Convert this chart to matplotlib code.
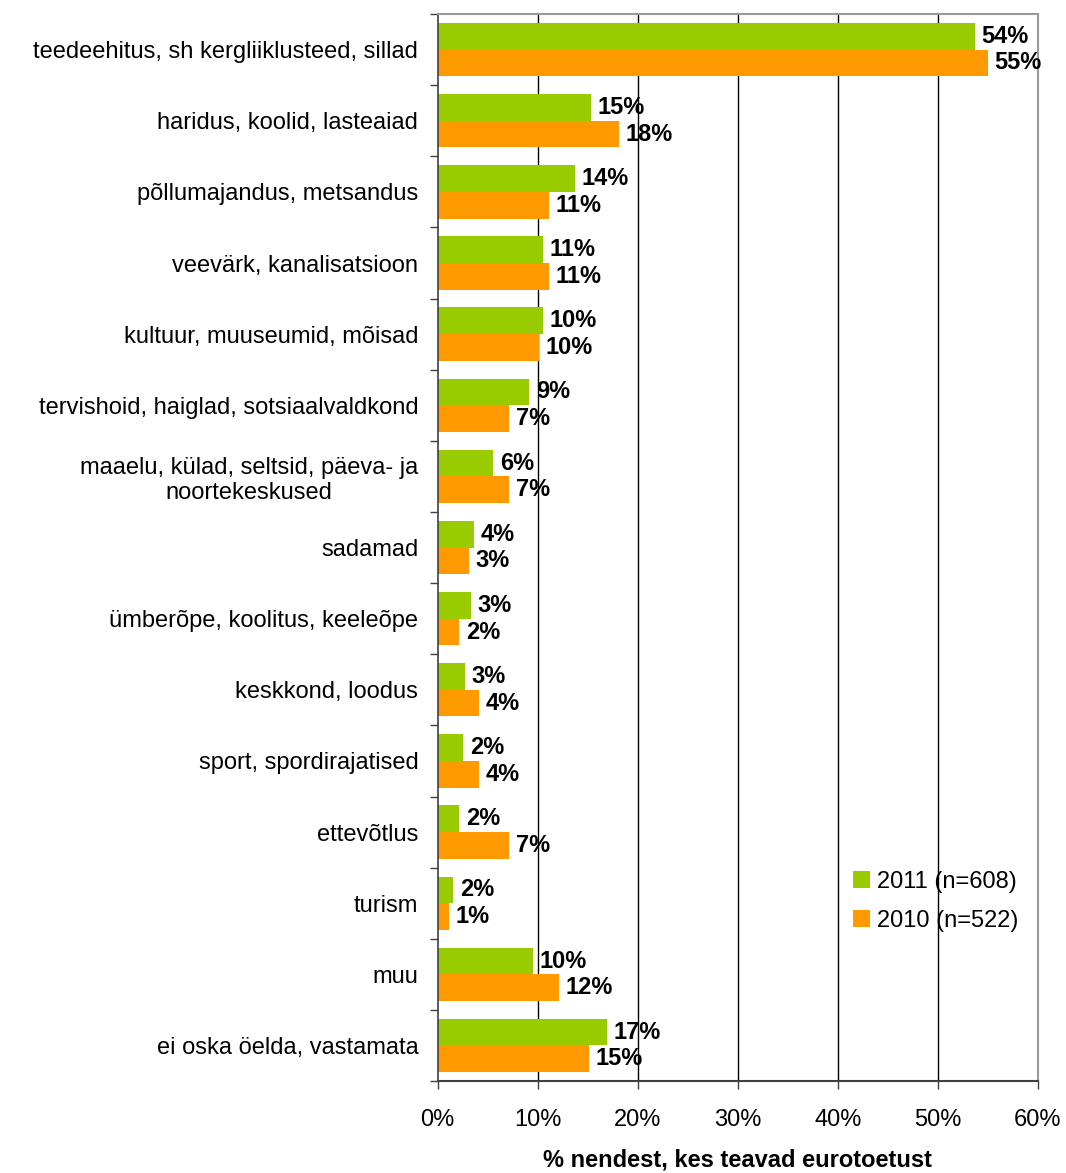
import matplotlib
matplotlib.use("Agg")
import matplotlib.pyplot as plt
import numpy as np

categories = [
    "teedeehitus, sh kergliiklusteed, sillad",
    "haridus, koolid, lasteaiad",
    "põllumajandus, metsandus",
    "veevärk, kanalisatsioon",
    "kultuur, muuseumid, mõisad",
    "tervishoid, haiglad, sotsiaalvaldkond",
    "maaelu, külad, seltsid, päeva- ja\nnoortekeskused",
    "sadamad",
    "ümberõpe, koolitus, keeleõpe",
    "keskkond, loodus",
    "sport, spordirajatised",
    "ettevõtlus",
    "turism",
    "muu",
    "ei oska öelda, vastamata",
]
values_2011 = [53.7, 15.3, 13.7, 10.5, 10.5, 9.1, 5.5, 3.6, 3.3, 2.7, 2.5, 2.1, 1.5, 9.5, 16.9]
values_2010 = [55.0, 18.1, 11.1, 11.1, 10.1, 7.1, 7.1, 3.1, 2.1, 4.1, 4.1, 7.1, 1.1, 12.1, 15.1]
labels_2011 = ["54%", "15%", "14%", "11%", "10%", "9%", "6%", "4%", "3%", "3%", "2%", "2%", "2%", "10%", "17%"]
labels_2010 = ["55%", "18%", "11%", "11%", "10%", "7%", "7%", "3%", "2%", "4%", "4%", "7%", "1%", "12%", "15%"]
series_names = ["2011 (n=608)", "2010 (n=522)"]
x_ticks = [0, 10, 20, 30, 40, 50, 60]
x_ticklabels = ["0%", "10%", "20%", "30%", "40%", "50%", "60%"]
x_label = "% nendest, kes teavad eurotoetust"

plt.rcParams['font.family'] = ['Liberation Sans', 'DejaVu Sans']

FS = 17

fig = plt.figure(figsize=(10.66, 11.73), dpi=100)
ax = fig.add_axes([0.4106, 0.0784, 0.5629, 0.9096])

n = len(categories)
y = np.arange(n)
h = 0.375
green = "#99CC00"
orange = "#FF9900"

for xv in x_ticks[1:-1]:
    ax.axvline(xv, color="black", lw=1.0, zorder=0)

b1 = ax.barh(y - h / 2, values_2011, height=h, color=green, label=series_names[0], zorder=2)
b2 = ax.barh(y + h / 2, values_2010, height=h, color=orange, label=series_names[1], zorder=2)

ax.bar_label(b1, labels=labels_2011, padding=5, fontsize=FS, fontweight="bold", zorder=3)
ax.bar_label(b2, labels=labels_2010, padding=5, fontsize=FS, fontweight="bold", zorder=3)

ax.set_xlim(0, 60)
ax.set_ylim(n - 0.5, -0.5)

ax.set_xticks(x_ticks)
ax.set_xticklabels(x_ticklabels, fontsize=FS)
ax.tick_params(axis="x", direction="out", length=6, width=1, color="#404040", pad=14)

ax.set_yticks(y)
ax.set_yticklabels(categories, fontsize=FS, multialignment="center")
ax.tick_params(axis="y", which="major", length=0, pad=14)
ax.set_yticks(np.arange(n + 1) - 0.5, minor=True)
ax.tick_params(axis="y", which="minor", direction="out", length=6, width=1, color="#404040")

for side in ["top", "right"]:
    ax.spines[side].set_color("#999999")
    ax.spines[side].set_linewidth(1.5)
ax.spines["left"].set_color("#404040")
ax.spines["bottom"].set_color("#404040")
ax.spines["left"].set_linewidth(1.2)
ax.spines["bottom"].set_linewidth(1.5)

ax.set_xlabel(x_label, fontsize=FS, fontweight="bold", labelpad=12.5)

leg = fig.legend(handles=[b1, b2], labels=series_names, loc="upper left",
                 bbox_to_anchor=(853 / 1066, 1 - 871 / 1173), frameon=False,
                 fontsize=FS, handlelength=0.72, handleheight=0.72, handletextpad=0.3,
                 labelspacing=0.7, borderpad=0, borderaxespad=0)

fig.savefig("out.png", dpi=100, facecolor="white")
